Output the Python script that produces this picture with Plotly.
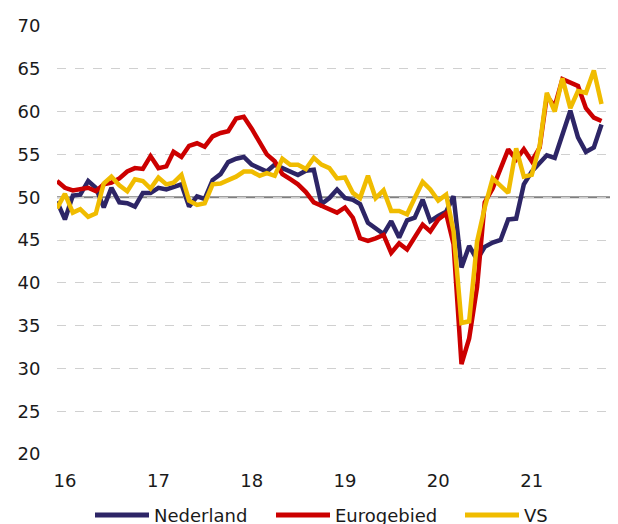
import pandas as pd
import plotly.graph_objects as go

# Monthly observations, Dec 2015 .. Oct 2021
months = pd.date_range("2015-12-01", periods=71, freq="MS")

nederland = [
    49.5, 47.4, 50.2, 50.3, 51.9, 51.1, 48.8, 51.1, 49.4, 49.3, 48.9, 50.5,
    50.5, 51.1, 50.9, 51.2, 51.5, 48.9, 50.1, 49.8, 52.0, 52.7, 54.1, 54.5,
    54.7, 53.8, 53.4, 53.0, 53.8, 53.4, 53.1, 52.6, 53.1, 53.2, 49.2, 49.9,
    50.9, 49.9, 49.7, 49.2, 47.0, 46.4, 45.7, 47.2, 45.3, 47.3, 47.6, 49.7,
    47.2, 47.8, 48.3, 50.1, 41.8, 44.3, 42.7, 44.2, 44.7, 45.0, 47.4, 47.5,
    51.5, 53.0, 54.0, 54.9, 54.6, 57.4, 60.1, 57.0, 55.3, 55.8, 58.5,
]
eurogebied = [
    51.9, 51.1, 50.8, 50.9, 51.1, 50.7, 51.5, 51.7, 52.2, 53.0, 53.4, 53.3,
    54.8, 53.4, 53.6, 55.3, 54.7, 56.0, 56.3, 55.9, 57.1, 57.5, 57.7, 59.2,
    59.4, 58.0, 56.3, 55.0, 54.2, 52.7, 52.1, 51.5, 50.6, 49.4, 49.0, 48.6,
    48.2, 48.8, 47.6, 45.2, 44.9, 45.2, 45.6, 43.5, 44.6, 43.9, 45.3, 46.8,
    46.0, 47.4, 48.1, 44.5, 30.5, 33.5, 39.5, 49.4, 51.0, 53.3, 55.6, 54.4,
    55.6, 54.2, 55.8, 61.8, 60.6, 63.8, 63.4, 63.0, 60.4, 59.3, 58.9,
]
vs = [
    48.7, 50.4, 48.2, 48.6, 47.7, 48.1, 51.6, 52.4, 51.4, 50.7, 52.1, 51.9,
    51.0, 52.3, 51.5, 51.7, 52.6, 49.6, 49.1, 49.3, 51.5, 51.6, 52.0, 52.4,
    53.0, 53.0, 52.5, 52.8, 52.5, 54.5, 53.8, 53.8, 53.3, 54.6, 53.8, 53.4,
    52.2, 52.3, 50.5, 49.9, 52.5, 49.9, 50.8, 48.4, 48.4, 48.0, 49.9, 51.8,
    50.9, 49.6, 50.3, 46.0, 35.3, 35.5, 44.8, 48.8, 52.2, 51.3, 50.5, 55.7,
    52.4, 52.6, 56.0, 62.2, 60.0, 63.9, 60.4, 62.4, 62.2, 64.8, 60.9,
]

series_names = ["Nederland", "Eurogebied", "VS"]
series_colors = ["#2d2566", "#cc0000", "#f0bc00"]

tick_dates = ["2016-01-01", "2017-01-01", "2018-01-01", "2019-01-01", "2020-01-01", "2021-01-01"]
tick_labels = ["16", "17", "18", "19", "20", "21"]
y_ticks = [20, 25, 30, 35, 40, 45, 50, 55, 60, 65, 70]
reference_level = 50

FONT = "Verdana, DejaVu Sans, sans-serif"
# the page body has an 8px margin: size the figure to the visible area
OFF = 8
W, H = 618 - OFF, 524 - OFF
ML, MR, MT, MB = 57 - OFF, 5, 26 - OFF, 70
PW, PH = W - ML - MR, H - MT - MB

def px_x(px):  # screen pixel -> paper coordinate
    return (px - OFF - ML) / PW

def px_y(py):
    return (H - MB - (py - OFF)) / PH

fig = go.Figure()
for name, vals, col in zip(series_names, [nederland, eurogebied, vs], series_colors):
    fig.add_trace(go.Scatter(
        x=months, y=vals, mode="lines", name=name,
        line=dict(color=col, width=4.5), showlegend=False,
    ))

fig.add_shape(type="line", xref="paper", x0=0, x1=1, yref="y",
              y0=reference_level, y1=reference_level,
              line=dict(color="#808080", width=2), layer="between")

# custom legend (layout positions in screen pixels)
legend_line_starts = [95, 276, 465]
legend_line_len = 54
legend_y = 515
for name, col, x0 in zip(series_names, series_colors, legend_line_starts):
    fig.add_shape(type="line", xref="paper", yref="paper",
                  x0=px_x(x0), x1=px_x(x0 + legend_line_len),
                  y0=px_y(legend_y), y1=px_y(legend_y),
                  line=dict(color=col, width=5))
    fig.add_annotation(xref="paper", yref="paper",
                       x=px_x(x0 + legend_line_len + 3), y=px_y(legend_y),
                       text=name, showarrow=False, xanchor="left", yanchor="middle",
                       font=dict(family=FONT, size=18, color="#1a1a1a"))

fig.update_layout(
    width=W, height=H,
    margin=dict(l=ML, r=MR, t=MT, b=MB, autoexpand=False),
    paper_bgcolor="white", plot_bgcolor="white",
    font=dict(family=FONT, size=18, color="#1a1a1a"),
    showlegend=False,
    xaxis=dict(
        range=["2015-12-01", "2021-11-15"],
        tickvals=tick_dates, ticktext=tick_labels,
        showgrid=False, zeroline=False, showline=False,
        ticks="outside", ticklen=10, tickcolor="rgba(0,0,0,0)",
        tickfont=dict(size=18),
    ),
    yaxis=dict(
        range=[20, 70], tickvals=y_ticks,
        showgrid=True, gridcolor="#d0d0d0", griddash="dash", gridwidth=1,
        zeroline=False, showline=False,
        ticks="outside", ticklen=12, tickcolor="rgba(0,0,0,0)",
        tickfont=dict(size=18),
    ),
)

fig.write_html("out.html")
